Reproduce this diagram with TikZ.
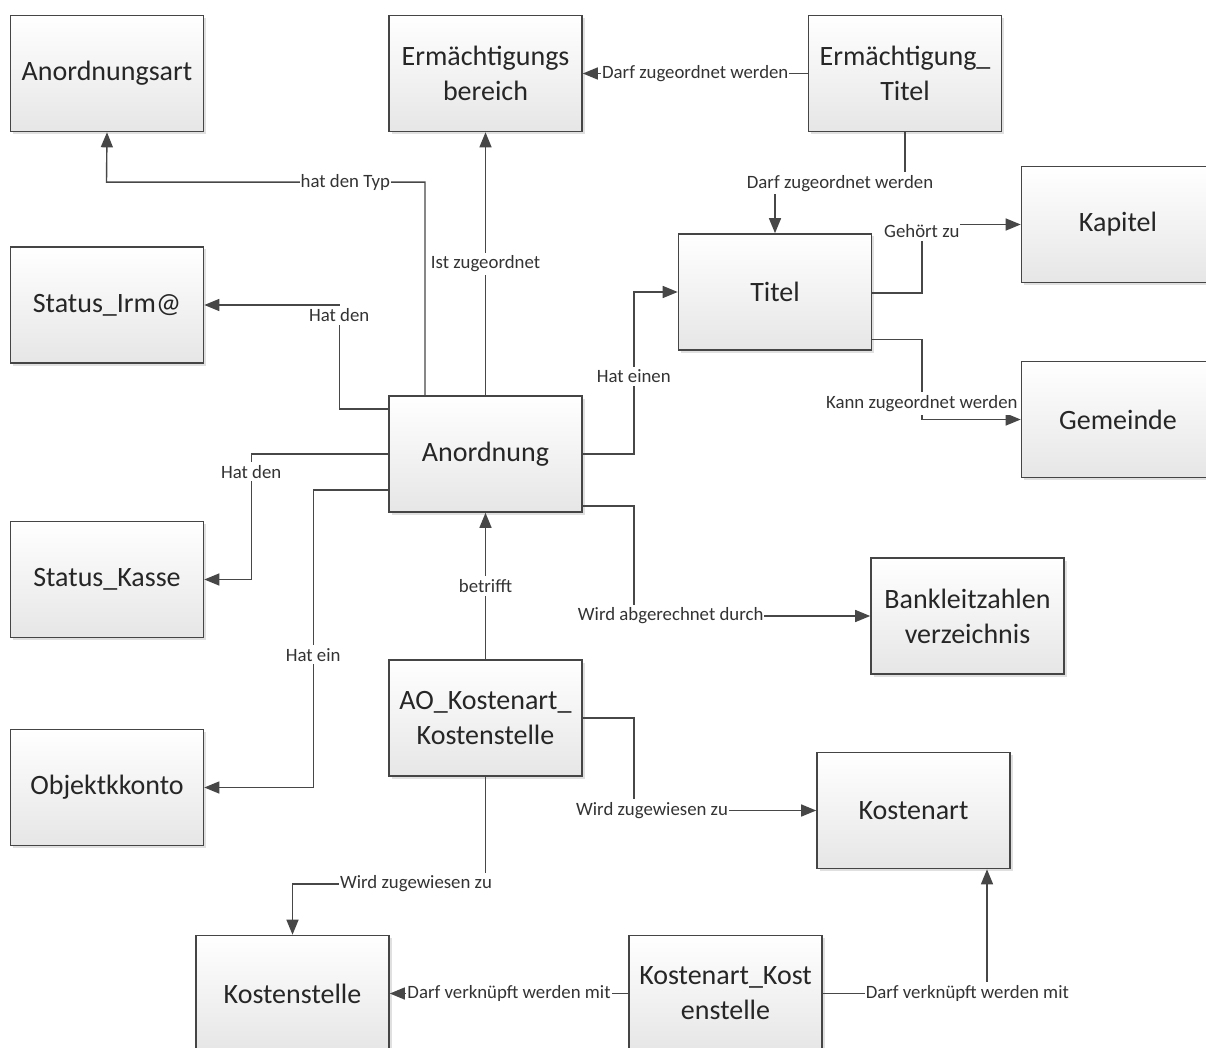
\documentclass[tikz,border=0pt]{standalone}
\usepackage{fontspec}
\setmainfont{Carlito}
\usetikzlibrary{arrows.meta,shadows}
\definecolor{edgegray}{HTML}{474747}
\definecolor{boxline}{HTML}{454545}
\definecolor{boxtext}{HTML}{262626}
\definecolor{lbltext}{HTML}{333333}
\definecolor{boxbottom}{HTML}{E6E6E6}
\begin{document}
\begin{tikzpicture}[x=1pt,y=1pt,
  entity/.style={draw=boxline, line width=1.6pt, top color=white, bottom color=boxbottom,
    minimum width=193pt, minimum height=116pt, inner sep=0pt, align=center,
    text=boxtext, font=\fontsize{28}{35}\selectfont,
    drop shadow={shadow xshift=2.5pt, shadow yshift=-2.5pt, fill=black, opacity=0.12}},
  conn/.style={draw=edgegray, line width=1.4pt, -{Triangle[length=15pt,width=12pt]}},
  lbl/.style={fill=white, text=lbltext, inner xsep=1pt, inner ysep=3pt,
    font=\fontsize{18.8}{22}\selectfont}
]
\useasboundingbox (0,0) rectangle (1206,-1048);

% entities
\node[entity] (ordart)       at (107,-73.5)    {Anordnungsart};
\node[entity] (ermber)       at (485.5,-73.5)  {Ermächtigungs\\bereich};
\node[entity] (ermtit)       at (905,-73.5)    {Ermächtigung\_\\Titel};
\node[entity] (kapitel)      at (1118,-224.5)  {Kapitel};
\node[entity] (titel)        at (775,-292)     {Titel};
\node[entity] (gemeinde)     at (1118,-419.5)  {Gemeinde};
\node[entity] (statirm)      at (107,-305)     {Status\_Irm@};
\node[entity] (anord)        at (485.5,-454)   {Anordnung};
\node[entity] (statkasse)    at (107,-579.5)   {Status\_Kasse};
\node[entity] (blz)          at (967.5,-616)   {Bankleitzahlen\\verzeichnis};
\node[entity] (aokk)         at (485.5,-718)   {AO\_Kostenart\_\\Kostenstelle};
\node[entity] (objkonto)     at (107,-787.5)   {Objektkkonto};
\node[entity] (kostenart)    at (913.5,-810.5) {Kostenart};
\node[entity] (kostenstelle) at (292.5,-993.5) {Kostenstelle};
\node[entity] (kakst)        at (725.5,-993.5) {Kostenart\_Kost\\enstelle};

% relations
\draw[conn] ([xshift=-60.5pt]anord.north) -- ++(0,213)
  -- node[lbl,pos=0.25]{hat den Typ} ++(-318.5,0) -- (ordart.south);
\draw[conn] (anord.north) -- node[lbl]{Ist zugeordnet} (ermber.south);
\draw[conn] (ermtit.west) -- node[lbl]{Darf zugeordnet werden} (ermber.east);
\draw[conn] (ermtit.south) -- ++(0,-51)
  -- node[lbl]{Darf zugeordnet werden} ++(-130,0) -- (titel.north);
\draw[conn] ([yshift=-1pt]titel.east) -- ++(49.5,0)
  |- node[lbl,pos=0.45]{Gehört zu} (kapitel.west);
\draw[conn] ([yshift=-47.5pt]titel.east) -- ++(49.5,0)
  |- node[lbl,pos=0.4]{Kann zugeordnet werden} (gemeinde.west);
\draw[conn] (anord.east) -- ++(51,0)
  |- node[lbl,pos=0.24]{Hat einen} (titel.west);
\draw[conn] ([yshift=45pt]anord.west) -- ++(-49,0)
  |- node[lbl,pos=0.45]{Hat den} (statirm.east);
\draw[conn] (anord.west) -- ++(-137,0)
  |- node[lbl,pos=0.07]{Hat den} (statkasse.east);
\draw[conn] ([yshift=-36pt]anord.west) -- ++(-75,0)
  |- node[lbl,pos=0.277]{Hat ein} (objkonto.east);
\draw[conn] (aokk.north) -- node[lbl]{betrifft} (anord.south);
\draw[conn] ([yshift=-52pt]anord.east) -- ++(51,0)
  |- node[lbl,pos=0.578]{Wird abgerechnet durch} (blz.west);
\draw[conn] (aokk.east) -- ++(51,0)
  |- node[lbl,pos=0.55]{Wird zugewiesen zu} (kostenart.west);
\draw[conn] (aokk.south) -- ++(0,-107)
  -- node[lbl,pos=0.36]{Wird zugewiesen zu} ++(-193,0) -- (kostenstelle.north);
\draw[conn] (kakst.west) -- node[lbl]{Darf verknüpft werden mit} (kostenstelle.east);
\draw[conn] (kakst.east) -| node[lbl,pos=0.44]{Darf verknüpft werden mit}
  ([xshift=73.5pt]kostenart.south);
\end{tikzpicture}
\end{document}
